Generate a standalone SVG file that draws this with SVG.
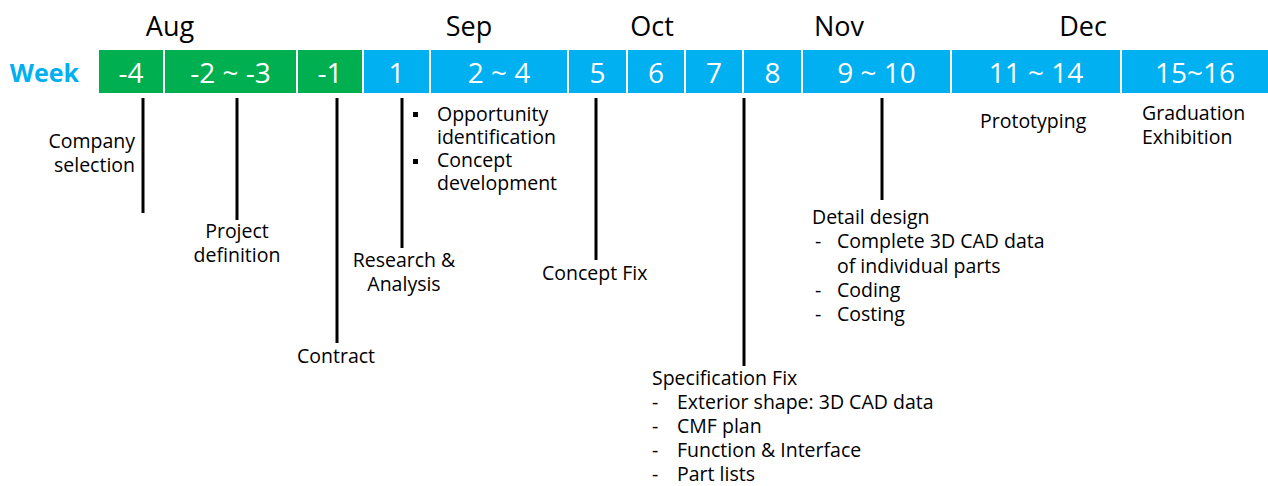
<svg xmlns="http://www.w3.org/2000/svg" width="1268" height="486" viewBox="0 0 1268 486">
<style>
text{font-family:"Open Sans","Noto Sans","Liberation Sans",sans-serif;}
.month{font-size:27px;fill:#000;text-anchor:middle;}
.cell{font-size:28px;fill:#fff;text-anchor:middle;}
.lbl{font-size:19.5px;fill:#000;}
.g{fill:#00B050;}
.b{fill:#00B0F0;}
.ln{stroke:#000;stroke-width:3;}
</style>
<rect width="1268" height="486" fill="#fff"/>
<g id="months">
<text class="month" x="170" y="36">Aug</text>
<text class="month" x="469" y="36">Sep</text>
<text class="month" x="652" y="36">Oct</text>
<text class="month" x="839" y="36">Nov</text>
<text class="month" x="1083" y="36">Dec</text>
</g>
<g id="week-label"><text x="79" y="82" font-size="25" font-weight="bold" fill="#00B0F0" text-anchor="end">Week</text></g>
<g id="bar">
<g id="w-4"><rect class="g" x="99" y="50" width="64" height="43"/><text class="cell" x="131" y="83">-4</text></g>
<g id="w-2-3"><rect class="g" x="165" y="50" width="131" height="43"/><text class="cell" x="230.5" y="83">-2 ~ -3</text></g>
<g id="w-1"><rect class="g" x="298" y="50" width="64" height="43"/><text class="cell" x="330" y="83">-1</text></g>
<g id="w1"><rect class="b" x="364" y="50" width="65" height="43"/><text class="cell" x="396.5" y="83">1</text></g>
<g id="w2-4"><rect class="b" x="431" y="50" width="136" height="43"/><text class="cell" x="499" y="83">2 ~ 4</text></g>
<g id="w5"><rect class="b" x="569" y="50" width="57" height="43"/><text class="cell" x="597.5" y="83">5</text></g>
<g id="w6"><rect class="b" x="628" y="50" width="56" height="43"/><text class="cell" x="656" y="83">6</text></g>
<g id="w7"><rect class="b" x="686" y="50" width="56" height="43"/><text class="cell" x="714" y="83">7</text></g>
<g id="w8"><rect class="b" x="744" y="50" width="57" height="43"/><text class="cell" x="772.5" y="83">8</text></g>
<g id="w9-10"><rect class="b" x="803" y="50" width="147" height="43"/><text class="cell" x="876.5" y="83">9 ~ 10</text></g>
<g id="w11-14"><rect class="b" x="952" y="50" width="168" height="43"/><text class="cell" x="1036" y="83">11 ~ 14</text></g>
<g id="w15-16"><rect class="b" x="1122" y="50" width="146" height="43"/><text class="cell" x="1195" y="83">15~16</text></g>
</g>
<g id="connectors">
<line class="ln" x1="143" y1="98" x2="143" y2="213"/>
<line class="ln" x1="237" y1="98" x2="237" y2="220"/>
<line class="ln" x1="337" y1="98" x2="337" y2="343"/>
<line class="ln" x1="402" y1="98" x2="402" y2="248"/>
<line class="ln" x1="596" y1="98" x2="596" y2="260"/>
<line class="ln" x1="744" y1="98" x2="744" y2="366"/>
<line class="ln" x1="882" y1="98" x2="882" y2="200"/>
</g>
<g id="company-selection">
<text class="lbl" text-anchor="end"><tspan x="135" y="148">Company</tspan><tspan x="135" y="172">selection</tspan></text>
</g>
<g id="project-definition">
<text class="lbl" text-anchor="middle"><tspan x="237" y="238">Project</tspan><tspan x="237" y="262">definition</tspan></text>
</g>
<g id="contract"><text class="lbl" x="297" y="363">Contract</text></g>
<g id="research">
<text class="lbl" text-anchor="middle"><tspan x="404" y="267">Research &amp;</tspan><tspan x="404" y="291">Analysis</tspan></text>
</g>
<g id="opportunity">
<rect x="413" y="112" width="5" height="5" fill="#000"/>
<rect x="413" y="159" width="5" height="5" fill="#000"/>
<text class="lbl"><tspan x="437" y="121">Opportunity</tspan><tspan x="437" y="144">identification</tspan><tspan x="437" y="167">Concept</tspan><tspan x="437" y="190">development</tspan></text>
</g>
<g id="concept-fix"><text class="lbl" x="542" y="280">Concept Fix</text></g>
<g id="specification-fix">
<text class="lbl"><tspan x="652" y="385">Specification Fix</tspan><tspan x="652" y="409">-</tspan><tspan x="677" y="409">Exterior shape: 3D CAD data</tspan><tspan x="652" y="433">-</tspan><tspan x="677" y="433">CMF plan</tspan><tspan x="652" y="457">-</tspan><tspan x="677" y="457">Function &amp; Interface</tspan><tspan x="652" y="481">-</tspan><tspan x="677" y="481">Part lists</tspan></text>
</g>
<g id="detail-design">
<text class="lbl"><tspan x="812" y="224">Detail design</tspan><tspan x="815" y="248">-</tspan><tspan x="837" y="248">Complete 3D CAD data</tspan><tspan x="837" y="273">of individual parts</tspan><tspan x="815" y="297">-</tspan><tspan x="837" y="297">Coding</tspan><tspan x="815" y="321">-</tspan><tspan x="837" y="321">Costing</tspan></text>
</g>
<g id="prototyping"><text class="lbl" x="980" y="128">Prototyping</text></g>
<g id="graduation">
<text class="lbl"><tspan x="1142" y="120">Graduation</tspan><tspan x="1142" y="144">Exhibition</tspan></text>
</g>
</svg>
